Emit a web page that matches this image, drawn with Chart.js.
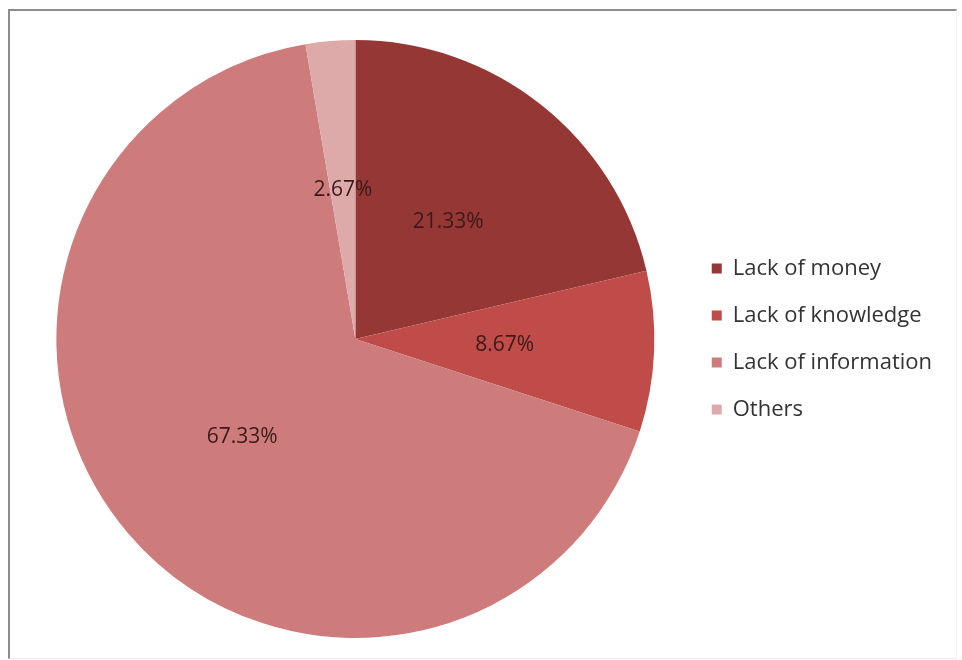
<!DOCTYPE html>
<html lang="en">
<head>
    <meta charset="UTF-8">
    <title>Barriers</title>
    <style>
        body { margin: 0; background: #fff; }
        .frame {
            position: absolute; left: 8px; top: 9px; width: 946px; height: 647px;
            border-left: 2px solid #8c8c8c; border-top: 2px solid #8c8c8c;
            border-right: 1px solid #f2f2f2; border-bottom: 1px solid #ececec;
        }
        #pieChart { position: absolute; left: 0; top: 0; }
    </style>
</head>
<body>
    <div class="frame"></div>
    <canvas id="pieChart" width="962" height="660"></canvas>

    <script src="https://cdn.jsdelivr.net/npm/chart.js"></script>
    <script>
        const categories = ['Lack of money', 'Lack of knowledge', 'Lack of information', 'Others'];
        const shares = [21.33, 8.67, 67.33, 2.67];
        const sliceColors = ['#953735', '#BF4C49', '#CD7C7B', '#DDAAA9'];

        // percentage labels drawn half way out on each slice
        const sliceLabels = {
            id: 'sliceLabels',
            afterDatasetsDraw(chart) {
                const ctx = chart.ctx;
                const meta = chart.getDatasetMeta(0);
                ctx.save();
                ctx.font = '21px "Open Sans", sans-serif';
                ctx.fillStyle = '#3b1a1a';
                ctx.textAlign = 'center';
                ctx.textBaseline = 'middle';
                meta.data.forEach((arc, i) => {
                    const p = arc.tooltipPosition();
                    ctx.fillText(shares[i].toFixed(2) + '%', p.x, p.y);
                });
                ctx.restore();
            }
        };

        new Chart(document.getElementById('pieChart'), {
            type: 'pie',
            data: {
                labels: categories,
                datasets: [{
                    data: shares,
                    backgroundColor: sliceColors,
                    borderWidth: 0
                }]
            },
            options: {
                responsive: false,
                animation: false,
                layout: { padding: { left: 24, right: 20, top: 40, bottom: 22 } },
                plugins: {
                    legend: {
                        display: true,
                        position: 'right',
                        align: 'center',
                        labels: {
                            boxWidth: 10,
                            boxHeight: 10,
                            padding: 25,
                            color: '#333',
                            font: { family: '"Open Sans", sans-serif', size: 22 }
                        }
                    },
                    tooltip: { enabled: false }
                }
            },
            plugins: [sliceLabels]
        });
    </script>
</body>
</html>
